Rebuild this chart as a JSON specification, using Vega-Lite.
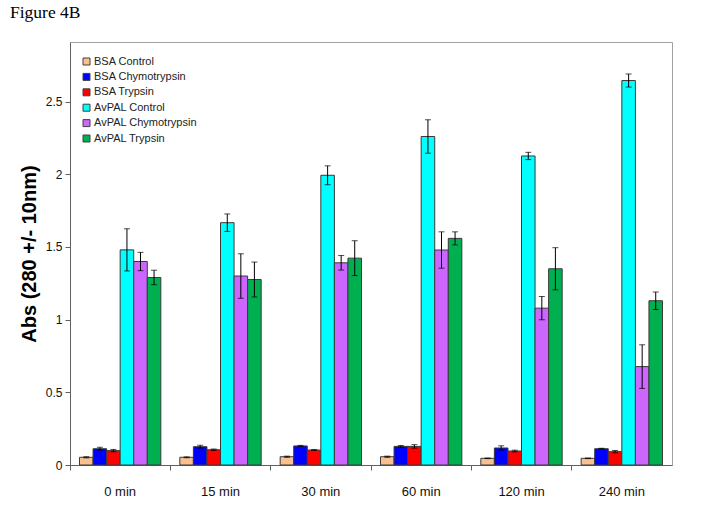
{
  "$schema": "https://vega.github.io/schema/vega-lite/v6.json",
  "width": 602,
  "height": 423,
  "autosize": {"type": "none"},
  "padding": {"left": 70, "top": 42, "right": 42, "bottom": 65},
  "background": "white",
  "title": {
    "text": "Figure 4B",
    "anchor": "start",
    "frame": "group",
    "font": "Liberation Serif",
    "fontSize": 17.5,
    "fontWeight": "normal",
    "color": "black",
    "dx": -60,
    "offset": 21
  },
  "config": {
    "view": {"stroke": "#a0a0a0", "strokeWidth": 1},
    "axis": {
      "labelFont": "Liberation Sans",
      "titleFont": "Liberation Sans",
      "labelColor": "#111",
      "domainColor": "#606060",
      "tickColor": "#606060",
      "grid": false
    }
  },
  "data": {
    "values": [
      {"time": "0 min", "series": "BSA Control", "value": 0.053, "err": 0.004},
      {"time": "0 min", "series": "BSA Chymotrypsin", "value": 0.112, "err": 0.01},
      {"time": "0 min", "series": "BSA Trypsin", "value": 0.099, "err": 0.008},
      {"time": "0 min", "series": "AvPAL Control", "value": 1.48, "err": 0.145},
      {"time": "0 min", "series": "AvPAL Chymotrypsin", "value": 1.4, "err": 0.063},
      {"time": "0 min", "series": "AvPAL Trypsin", "value": 1.29, "err": 0.05},
      {"time": "15 min", "series": "BSA Control", "value": 0.053, "err": 0.003},
      {"time": "15 min", "series": "BSA Chymotrypsin", "value": 0.126, "err": 0.01},
      {"time": "15 min", "series": "BSA Trypsin", "value": 0.105, "err": 0.005},
      {"time": "15 min", "series": "AvPAL Control", "value": 1.667, "err": 0.06},
      {"time": "15 min", "series": "AvPAL Chymotrypsin", "value": 1.3, "err": 0.153},
      {"time": "15 min", "series": "AvPAL Trypsin", "value": 1.276, "err": 0.12},
      {"time": "30 min", "series": "BSA Control", "value": 0.057, "err": 0.004},
      {"time": "30 min", "series": "BSA Chymotrypsin", "value": 0.131, "err": 0.004},
      {"time": "30 min", "series": "BSA Trypsin", "value": 0.103, "err": 0.003},
      {"time": "30 min", "series": "AvPAL Control", "value": 1.993, "err": 0.065},
      {"time": "30 min", "series": "AvPAL Chymotrypsin", "value": 1.391, "err": 0.05},
      {"time": "30 min", "series": "AvPAL Trypsin", "value": 1.423, "err": 0.12},
      {"time": "60 min", "series": "BSA Control", "value": 0.057, "err": 0.004},
      {"time": "60 min", "series": "BSA Chymotrypsin", "value": 0.128, "err": 0.006},
      {"time": "60 min", "series": "BSA Trypsin", "value": 0.128, "err": 0.012},
      {"time": "60 min", "series": "AvPAL Control", "value": 2.26, "err": 0.115},
      {"time": "60 min", "series": "AvPAL Chymotrypsin", "value": 1.479, "err": 0.125},
      {"time": "60 min", "series": "AvPAL Trypsin", "value": 1.559, "err": 0.045},
      {"time": "120 min", "series": "BSA Control", "value": 0.046, "err": 0.002},
      {"time": "120 min", "series": "BSA Chymotrypsin", "value": 0.117, "err": 0.015},
      {"time": "120 min", "series": "BSA Trypsin", "value": 0.096, "err": 0.006},
      {"time": "120 min", "series": "AvPAL Control", "value": 2.126, "err": 0.025},
      {"time": "120 min", "series": "AvPAL Chymotrypsin", "value": 1.079, "err": 0.08},
      {"time": "120 min", "series": "AvPAL Trypsin", "value": 1.35, "err": 0.145},
      {"time": "240 min", "series": "BSA Control", "value": 0.046, "err": 0.002},
      {"time": "240 min", "series": "BSA Chymotrypsin", "value": 0.112, "err": 0.003},
      {"time": "240 min", "series": "BSA Trypsin", "value": 0.092, "err": 0.008},
      {"time": "240 min", "series": "AvPAL Control", "value": 2.645, "err": 0.045},
      {"time": "240 min", "series": "AvPAL Chymotrypsin", "value": 0.677, "err": 0.15},
      {"time": "240 min", "series": "AvPAL Trypsin", "value": 1.13, "err": 0.06}
    ]
  },
  "encoding": {
    "x": {
      "field": "time",
      "type": "nominal",
      "sort": ["0 min", "15 min", "30 min", "60 min", "120 min", "240 min"],
      "scale": {"paddingInner": 0, "paddingOuter": 0},
      "axis": {
        "title": null,
        "labelAngle": 0,
        "labelFontSize": 13,
        "tickSize": 5,
        "labelPadding": 15,
        "bandPosition": 0
      }
    },
    "xOffset": {
      "field": "series",
      "type": "nominal",
      "sort": ["BSA Control", "BSA Chymotrypsin", "BSA Trypsin", "AvPAL Control", "AvPAL Chymotrypsin", "AvPAL Trypsin"],
      "scale": {"paddingInner": 0, "paddingOuter": 0.7}
    }
  },
  "layer": [
    {
      "mark": {"type": "bar", "stroke": "#3a3a3a", "strokeWidth": 1},
      "encoding": {
        "y": {
          "field": "value",
          "type": "quantitative",
          "title": "Abs (280 +/- 10nm)",
          "scale": {"domain": [0, 2.91], "nice": false, "zero": true},
          "axis": {
            "values": [0, 0.5, 1, 1.5, 2, 2.5],
            "format": "~g",
            "labelFontSize": 12,
            "tickSize": 5,
            "labelPadding": 3,
            "titleFontSize": 20,
            "titleFontWeight": "bold",
            "titleColor": "black",
            "titlePadding": 6
          }
        },
        "color": {
          "field": "series",
          "type": "nominal",
          "sort": ["BSA Control", "BSA Chymotrypsin", "BSA Trypsin", "AvPAL Control", "AvPAL Chymotrypsin", "AvPAL Trypsin"],
          "scale": {
            "domain": ["BSA Control", "BSA Chymotrypsin", "BSA Trypsin", "AvPAL Control", "AvPAL Chymotrypsin", "AvPAL Trypsin"],
            "range": ["#FAC090", "#0000FF", "#FF0000", "#00FFFF", "#CC66FF", "#00B050"]
          },
          "legend": {
            "title": null,
            "orient": "none",
            "legendX": 11,
            "legendY": 14,
            "padding": 0,
            "symbolType": "square",
            "symbolSize": 49,
            "symbolStrokeColor": "#404040",
            "symbolStrokeWidth": 1,
            "labelFont": "Liberation Sans",
            "labelFontSize": 11,
            "labelColor": "#222",
            "labelOffset": 2,
            "rowPadding": 3.4
          }
        }
      }
    },
    {
      "mark": {"type": "errorbar", "color": "black", "thickness": 1, "ticks": {"size": 6, "thickness": 1, "color": "black"}},
      "encoding": {
        "y": {"field": "value", "type": "quantitative", "title": "Abs (280 +/- 10nm)"},
        "yError": {"field": "err"}
      }
    }
  ]
}
